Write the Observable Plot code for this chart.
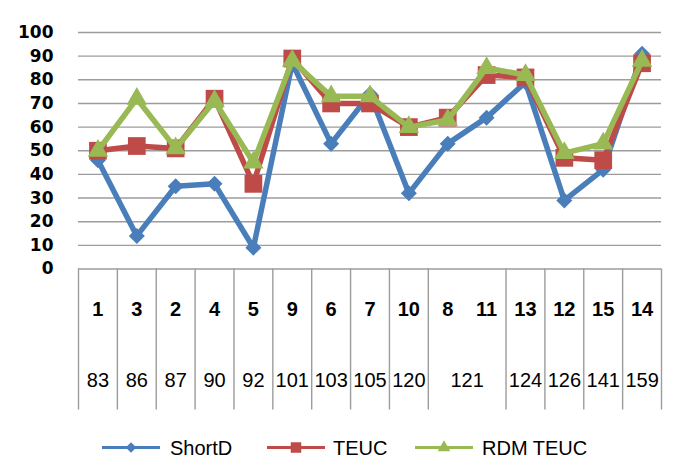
<!DOCTYPE html>
<html>
<head>
<meta charset="utf-8">
<script src="https://cdn.jsdelivr.net/npm/d3@7"></script>
<script src="https://cdn.jsdelivr.net/npm/@observablehq/plot@0.6"></script>
<style>
  body { margin: 0; background: #fff; font-family: "Liberation Sans", sans-serif; }
  #wrap { position: relative; width: 685px; }
  #legend { position: relative; width: 685px; height: 37px; }
  .item { position: absolute; top: 0; height: 37px; }
  .lab { position: absolute; top: 8px; font-family: "Liberation Sans", sans-serif; font-size: 20px; line-height: 20px; color: #000; white-space: nowrap; }
</style>
</head>
<body>
<div id="wrap"></div>
<div id="legend"></div>
<script>
// Category axis: inner labels (one per point) and outer groups
const innerLabels = ["1","3","2","4","5","9","6","7","10","8","11","13","12","15","14"];
const outerLabels = ["83","86","87","90","92","101","103","105","120","121","124","126","141","159"];
const outerSpans  = [1,1,1,1,1,1,1,1,1,2,1,1,1,1];

// Series values
const seriesNames = ["ShortD", "TEUC", "RDM TEUC"];
const shortD  = [46,14,35,36, 9,87,53,74,32,53,64,79,29,42,91];
const teuc    = [50,52,51,72,36,89,70,70,60,64,82,81,47,46,87];
const rdmTeuc = [50,72,51,71,45,88,73,73,60,63,85,82,49,53,88];

const yTicks = [0,10,20,30,40,50,60,70,80,90,100];

const colors = {"ShortD": "#4A7EBB", "TEUC": "#BE4B48", "RDM TEUC": "#98B954"};
const symbols = {"ShortD": "diamond2", "TEUC": "square", "RDM TEUC": "triangle"};
const radii = {"ShortD": 7.2, "TEUC": 10, "RDM TEUC": 7.6};

const values = [shortD, teuc, rdmTeuc];
const rows = [];
seriesNames.forEach((s, k) => values[k].forEach((v, i) => rows.push({series: s, pos: i + 0.5, value: v})));

// Outer group boundaries and centers
const bounds = [0];
const outerCenters = [];
outerSpans.forEach(sp => { const a = bounds[bounds.length - 1]; outerCenters.push(a + sp / 2); bounds.push(a + sp); });
const innerCenters = innerLabels.map((d, i) => i + 0.5);

const H = 430;
const gridColor = "#9c9c9c";

const seriesMarks = [];
for (const s of seriesNames) {
  const data = rows.filter(r => r.series === s);
  seriesMarks.push(Plot.line(data, {x: "pos", y: "value", stroke: colors[s], strokeWidth: 5.5, strokeLinejoin: "round"}));
  seriesMarks.push(Plot.dot(data, {x: "pos", y: "value", symbol: symbols[s], r: radii[s], fill: colors[s], stroke: "none"}));
}

const chart = Plot.plot({
  width: 685,
  height: H,
  marginLeft: 78,
  marginRight: 24,
  marginTop: 32,
  marginBottom: H - 268.5,
  style: {fontFamily: "Liberation Sans", fontSize: "20px", color: "#000", background: "#fff"},
  x: {domain: [0, innerLabels.length], axis: null},
  y: {domain: [0, 100], axis: null},
  marks: [
    Plot.gridY(yTicks.filter(d => d > 0), {stroke: gridColor, strokeOpacity: 1, strokeWidth: 1.4}),
    Plot.ruleY([0], {stroke: gridColor, strokeWidth: 1.4}),
    Plot.axisY(yTicks, {label: null, tickSize: 0, tickPadding: 25, fontFamily: "DejaVu Sans", fontWeight: "bold", fontSize: 17, fill: "#000"}),
    Plot.axisX(bounds, {label: null, tickSize: 141, tickFormat: () => "", stroke: gridColor, strokeWidth: 1.4}),
    Plot.text(innerLabels, {x: (d, i) => innerCenters[i], frameAnchor: "bottom", lineAnchor: "middle", dy: 41, fontWeight: "bold", fontSize: 20, fill: "#000"}),
    Plot.text(outerLabels, {x: (d, i) => outerCenters[i], frameAnchor: "bottom", lineAnchor: "middle", dy: 112, fontSize: 20, fill: "#000"}),
    ...seriesMarks
  ]
});
document.getElementById("wrap").appendChild(chart);

// Legend
const legend = document.getElementById("legend");
const legendPos = [{sx: 102, tx: 170}, {sx: 267, tx: 333}, {sx: 415, tx: 482}];
seriesNames.forEach((s, k) => {
  const p = legendPos[k];
  const ns = "http://www.w3.org/2000/svg";
  const svg = document.createElementNS(ns, "svg");
  svg.setAttribute("width", 58); svg.setAttribute("height", 37);
  svg.setAttribute("class", "item");
  svg.style.left = p.sx + "px";
  const ln = document.createElementNS(ns, "line");
  ln.setAttribute("x1", 0); ln.setAttribute("x2", 58); ln.setAttribute("y1", 17.5); ln.setAttribute("y2", 17.5);
  ln.setAttribute("stroke", colors[s]); ln.setAttribute("stroke-width", 3);
  svg.appendChild(ln);
  const sym = {"diamond2": d3.symbolDiamond2, "square": d3.symbolSquare, "triangle": d3.symbolTriangle}[symbols[s]];
  const path = document.createElementNS(ns, "path");
  path.setAttribute("d", d3.symbol(sym, s === "TEUC" ? 110 : 70)());
  path.setAttribute("transform", "translate(29,17.5)");
  path.setAttribute("fill", colors[s]);
  svg.appendChild(path);
  legend.appendChild(svg);
  const t = document.createElement("div");
  t.className = "lab";
  t.style.left = p.tx + "px";
  t.textContent = s;
  legend.appendChild(t);
});
</script>
</body>
</html>
